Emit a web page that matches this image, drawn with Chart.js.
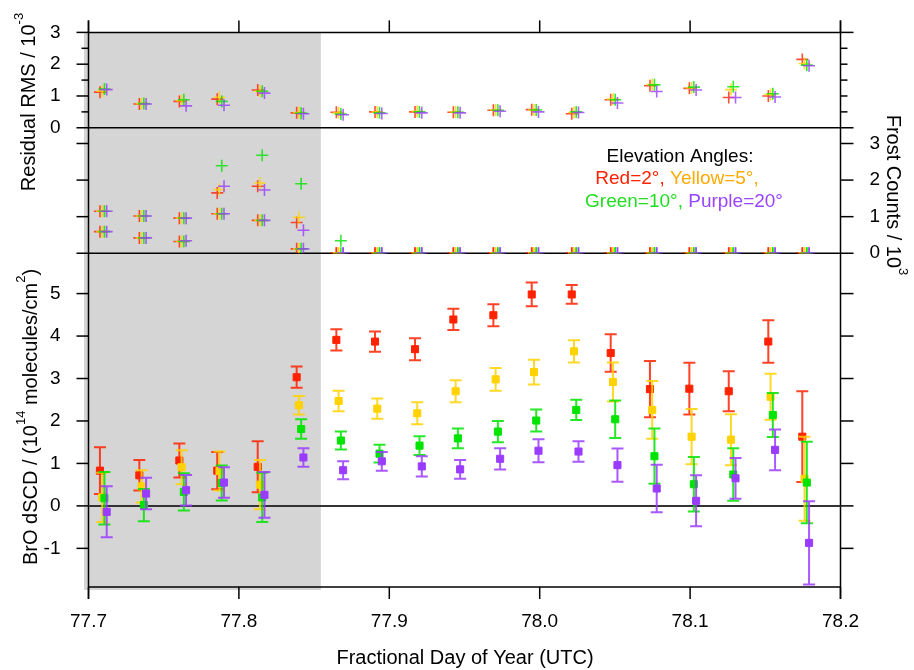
<!DOCTYPE html>
<html><head><meta charset="utf-8">
<script src="https://cdn.jsdelivr.net/npm/chart.js@4.4.1/dist/chart.umd.min.js"></script>
<style>html,body{margin:0;padding:0;background:#fff;} #wrap{width:914px;height:670px;position:relative;}</style>
</head><body><div id="wrap"><canvas id="c" width="914" height="670"></canvas></div>
<script>
// ---------- DATA ----------
const timeRed    = [77.7076, 77.7338, 77.7604, 77.7856, 77.8125, 77.8384, 77.8648, 77.8905, 77.9171, 77.9426, 77.9692, 77.9947, 78.0213, 78.0472, 78.0733, 78.0995, 78.1257, 78.1520, 78.1746];
const timeYellow = [77.7091, 77.7353, 77.7619, 77.7871, 77.8140, 77.8399, 77.8663, 77.8920, 77.9186, 77.9441, 77.9707, 77.9962, 78.0228, 78.0487, 78.0748, 78.1010, 78.1272, 78.1535, 78.1761];
const timeGreen  = [77.7106, 77.7368, 77.7634, 77.7886, 77.8155, 77.8414, 77.8678, 77.8935, 77.9201, 77.9456, 77.9722, 77.9977, 78.0243, 78.0502, 78.0763, 78.1025, 78.1287, 78.1550, 78.1776];
const timePurple = [77.7121, 77.7383, 77.7649, 77.7901, 77.8170, 77.8429, 77.8693, 77.8950, 77.9216, 77.9471, 77.9737, 77.9992, 78.0258, 78.0517, 78.0778, 78.1040, 78.1302, 78.1565, 78.1791];

// Residual RMS (x 10^-3)
const rmsRed    = [1.12, 0.75, 0.83, 0.90, 1.19, 0.47, 0.49, 0.50, 0.50, 0.49, 0.55, 0.57, 0.44, 0.88, 1.32, 1.24, 0.95, 1.00, 2.15];
const rmsYellow = [1.15, 0.76, 0.85, 0.96, 1.15, 0.48, 0.47, 0.50, 0.52, 0.50, 0.56, 0.56, 0.48, 0.90, 1.36, 1.25, 1.20, 1.05, 2.02];
const rmsGreen  = [1.22, 0.76, 0.88, 0.83, 1.15, 0.46, 0.43, 0.47, 0.50, 0.49, 0.55, 0.56, 0.50, 0.88, 1.35, 1.28, 1.29, 1.07, 1.97];
const rmsPurple = [1.20, 0.75, 0.69, 0.71, 1.09, 0.44, 0.41, 0.45, 0.47, 0.47, 0.52, 0.50, 0.48, 0.78, 1.14, 1.19, 0.95, 0.97, 1.95];

// Frost counts (x 10^3), two readings per scan
const frostHiRed    = [1.15, 1.02, 0.96, 1.65, 1.83, 0.84, 0, 0, 0, 0, 0, 0, 0, 0, 0, 0, 0, 0, 0];
const frostHiYellow = [1.15, 1.02, 0.96, 1.74, 1.92, 0.98, 0, 0, 0, 0, 0, 0, 0, 0, 0, 0, 0, 0, 0];
const frostHiGreen  = [1.15, 1.02, 0.96, 2.39, 2.68, 1.90, 0.34, 0, 0, 0, 0, 0, 0, 0, 0, 0, 0, 0, 0];
const frostHiPurple = [1.15, 1.02, 0.96, 1.83, 1.73, 0.63, 0, 0, 0, 0, 0, 0, 0, 0, 0, 0, 0, 0, 0];
const frostLoRed    = [0.59, 0.42, 0.32, 1.08, 0.90, 0.12, 0, 0, 0, 0, 0, 0, 0, 0, 0, 0, 0, 0, 0];
const frostLoYellow = [0.59, 0.42, 0.32, 1.08, 0.90, 0.12, 0, 0, 0, 0, 0, 0, 0, 0, 0, 0, 0, 0, 0];
const frostLoGreen  = [0.59, 0.42, 0.32, 1.08, 0.90, 0.12, 0, 0, 0, 0, 0, 0, 0, 0, 0, 0, 0, 0, 0];
const frostLoPurple = [0.59, 0.42, 0.34, 1.08, 0.90, 0.12, 0, 0, 0, 0, 0, 0, 0, 0, 0, 0, 0, 0, 0];

// BrO dSCD (x 10^14 molecules/cm^2) and errors
const broRed       = [0.83, 0.72, 1.07, 0.83, 0.92, 3.03, 3.91, 3.87, 3.69, 4.39, 4.49, 4.98, 4.98, 3.60, 2.75, 2.76, 2.70, 3.87, 1.63];
const broErrRed    = [0.55, 0.36, 0.40, 0.44, 0.60, 0.25, 0.25, 0.24, 0.26, 0.25, 0.26, 0.28, 0.22, 0.44, 0.66, 0.61, 0.47, 0.50, 1.07];
const broYellow    = [0.20, 0.46, 0.91, 0.82, 0.50, 2.37, 2.47, 2.29, 2.18, 2.70, 2.98, 3.15, 3.64, 2.92, 2.26, 1.63, 1.56, 2.57, 0.64];
const broErrYellow = [0.58, 0.38, 0.40, 0.46, 0.58, 0.22, 0.24, 0.24, 0.26, 0.26, 0.27, 0.29, 0.26, 0.46, 0.68, 0.65, 0.60, 0.54, 0.99];
const broGreen     = [0.18, 0.02, 0.33, 0.54, 0.20, 1.81, 1.54, 1.23, 1.42, 1.59, 1.75, 2.01, 2.26, 2.04, 1.17, 0.51, 0.74, 2.14, 0.55];
const broErrGreen  = [0.62, 0.38, 0.44, 0.41, 0.58, 0.23, 0.21, 0.21, 0.22, 0.23, 0.25, 0.26, 0.24, 0.44, 0.65, 0.64, 0.62, 0.52, 0.96];
const broPurple    = [-0.14, 0.29, 0.37, 0.55, 0.26, 1.14, 0.84, 1.05, 0.93, 0.86, 1.11, 1.30, 1.28, 0.96, 0.41, 0.12, 0.65, 1.32, -0.87];
const broErrPurple = [0.60, 0.37, 0.36, 0.36, 0.54, 0.22, 0.21, 0.22, 0.24, 0.22, 0.25, 0.27, 0.24, 0.39, 0.56, 0.60, 0.48, 0.48, 0.98];

// Axes
const dayRange   = [77.7, 78.2];
const dayTicks   = [77.7, 77.8, 77.9, 78.0, 78.1, 78.2];
const rmsRange   = [0, 3];
const rmsTicks   = [0, 0.5, 1, 1.5, 2, 2.5, 3];
const frostRange = [0, 3.43];
const frostTicks = [0, 1, 2, 3];
const broRange   = [-1.91, 5.95];
const broTicks   = [-1, 0, 1, 2, 3, 4, 5];
const shadeRange = [77.697, 77.8545];

// ---------- STYLE ----------
const FONT = '"Liberation Sans", Arial, Helvetica, sans-serif';
const COL = {red: '#ff2200', yellow: '#ffd200', green: '#00e400', purple: '#9a3cff'};
const TXTCOL = {red: '#ff2200', yellow: '#ffaa00', green: '#22dd22', purple: '#9944ff'};
function rgba(hex, a) {
  const n = parseInt(hex.slice(1), 16);
  return `rgba(${(n >> 16) & 255},${(n >> 8) & 255},${n & 255},${a})`;
}
function pts(xs, ys) { return xs.map((x, i) => ({x: x, y: ys[i]})); }

const angles = [
  {c: 'red',    t: timeRed,    rms: rmsRed,    hi: frostHiRed,    lo: frostLoRed,    bro: broRed,    err: broErrRed,    order: 4},
  {c: 'yellow', t: timeYellow, rms: rmsYellow, hi: frostHiYellow, lo: frostLoYellow, bro: broYellow, err: broErrYellow, order: 3},
  {c: 'green',  t: timeGreen,  rms: rmsGreen,  hi: frostHiGreen,  lo: frostLoGreen,  bro: broGreen,  err: broErrGreen,  order: 2},
  {c: 'purple', t: timePurple, rms: rmsPurple, hi: frostHiPurple, lo: frostLoPurple, bro: broPurple, err: broErrPurple, order: 1}
];

const datasets = [];
angles.forEach(a => {
  const col = COL[a.c];
  const cross = {showLine: false, pointStyle: 'cross', pointRadius: 6, pointBorderWidth: 1.6,
    borderColor: rgba(col, 0.8), backgroundColor: rgba(col, 0.8), order: a.order};
  datasets.push(Object.assign({label: a.c + ' rms', data: pts(a.t, a.rms), yAxisID: 'yRMS'}, cross));
  datasets.push(Object.assign({label: a.c + ' frost hi', data: pts(a.t, a.hi), yAxisID: 'yFrost'}, cross));
  datasets.push(Object.assign({label: a.c + ' frost lo', data: pts(a.t, a.lo), yAxisID: 'yFrost'}, cross));
  datasets.push({label: a.c + ' BrO', data: pts(a.t, a.bro), yAxisID: 'yBrO', showLine: false,
    pointStyle: 'rect', pointRadius: 5, pointBorderWidth: 1, borderColor: col, backgroundColor: col,
    errors: a.err, errColor: rgba(col, 0.85), order: a.order});
});

function fixW(w) { return function (s) { s.width = w; }; }
const LEFTW = 88.5, RIGHTW = 73.5;
const hidden = {display: false};
const tickFont = {family: FONT, size: 19};

const errorBars = {
  id: 'errorBars',
  beforeDatasetDraw(chart, args) {
    const ds = chart.data.datasets[args.index];
    if (!ds.errors) return;
    const ys = chart.scales[ds.yAxisID];
    const ctx = chart.ctx;
    ctx.save();
    ctx.strokeStyle = ds.errColor;
    ctx.lineWidth = 2;
    args.meta.data.forEach((el, i) => {
      const v = ds.data[i].y, e = ds.errors[i];
      const x = el.x, y0 = ys.getPixelForValue(v + e), y1 = ys.getPixelForValue(v - e);
      ctx.beginPath();
      ctx.moveTo(x, y0); ctx.lineTo(x, y1);
      ctx.moveTo(x - 6, y0); ctx.lineTo(x + 6, y0);
      ctx.moveTo(x - 6, y1); ctx.lineTo(x + 6, y1);
      ctx.stroke();
    });
    ctx.restore();
  }
};

function richText(ctx, parts, cx, cy, rot, size, color) {
  ctx.save();
  ctx.translate(cx, cy); ctx.rotate(rot);
  const mainFont = size + 'px ' + FONT, supFont = Math.round(size * 0.65) + 'px ' + FONT;
  let total = 0;
  const widths = parts.map(p => { ctx.font = p[1] ? supFont : mainFont; const w = ctx.measureText(p[0]).width; total += w; return w; });
  let x = -total / 2;
  ctx.textAlign = 'left'; ctx.textBaseline = 'alphabetic'; ctx.fillStyle = color || '#000';
  parts.forEach((p, i) => {
    ctx.font = p[1] ? supFont : mainFont;
    ctx.fillText(p[0], x, p[1] ? -size * 0.25 : size * 0.35);
    x += widths[i];
  });
  ctx.restore();
}
function colorLine(ctx, parts, cx, cy, size) {
  ctx.save();
  ctx.font = size + 'px ' + FONT;
  ctx.textAlign = 'left'; ctx.textBaseline = 'middle';
  let total = 0;
  const widths = parts.map(p => { const w = ctx.measureText(p[0]).width; total += w; return w; });
  let x = cx - total / 2;
  parts.forEach((p, i) => { ctx.fillStyle = p[1]; ctx.fillText(p[0], x, cy); x += widths[i]; });
  ctx.restore();
}

const frame = {
  id: 'frame',
  beforeDatasetsDraw(chart) {
    const {ctx, chartArea: ca, scales} = chart;
    const X = scales.x, yR = scales.yRMS, yF = scales.yFrost, yB = scales.yBrO;
    const L = ca.left, R = ca.right, T = ca.top, B = ca.bottom;
    ctx.save();
    const sx0 = X.getPixelForValue(shadeRange[0]), sx1 = X.getPixelForValue(shadeRange[1]);
    ctx.fillStyle = '#d5d5d5';
    ctx.fillRect(sx0, T, sx1 - sx0, B + 3 - T);
    function line(x0, y0, x1, y1) { ctx.beginPath(); ctx.moveTo(x0, y0); ctx.lineTo(x1, y1); ctx.stroke(); }
    ctx.strokeStyle = '#000'; ctx.lineWidth = 1.5;
    line(L, T - 12, L, B + 12); line(R, T - 12, R, B + 12);
    line(L, T, R, T); line(L, B, R, B);
    line(L, yR.getPixelForValue(0), R, yR.getPixelForValue(0));
    line(L, yF.getPixelForValue(0), R, yF.getPixelForValue(0));
    // x ticks top & bottom
    dayTicks.forEach(v => { const x = X.getPixelForValue(v); line(x, T - 12, x, T); line(x, B, x, B + 12); });
    // y ticks left & right
    rmsTicks.forEach(v => { const y = yR.getPixelForValue(v); const maj = Number.isInteger(v); line(L - (maj ? 12 : 7), y, L, y); line(R, y, R + ((v === 0 || v === 3) ? 13 : 7), y); });
    frostTicks.forEach(v => { const y = yF.getPixelForValue(v); line(L - 12, y, L, y); line(R, y, R + 13, y); });
    broTicks.forEach(v => { const y = yB.getPixelForValue(v); line(L - 12, y, L, y); line(R, y, R + 13, y); });
    // zero line of BrO panel
    ctx.strokeStyle = '#333'; ctx.lineWidth = 2;
    const y0 = yB.getPixelForValue(0);
    line(L, y0, R, y0);
    ctx.restore();
  },
  afterDraw(chart) {
    const ctx = chart.ctx;
    richText(ctx, [['Residual RMS / 10', false], ['-3', true]], 28, 102, -Math.PI / 2, 20);
    richText(ctx, [['BrO dSCD / (10', false], ['14', true], [' molecules/cm', false], ['2', true], [')', false]], 30, 417, -Math.PI / 2, 20);
    richText(ctx, [['Frost Counts / 10', false], ['3', true]], 894, 195, Math.PI / 2, 20);
    richText(ctx, [['Fractional Day of Year (UTC)', false]], 465, 657, 0, 20);
    colorLine(ctx, [['Elevation Angles:', '#000']], 680, 157, 19);
    colorLine(ctx, [['Red=2°, ', TXTCOL.red], ['Yellow=5°,', TXTCOL.yellow]], 677, 179, 19);
    colorLine(ctx, [['Green=10°, ', TXTCOL.green], ['Purple=20°', TXTCOL.purple]], 684, 202, 19);
  }
};

new Chart(document.getElementById('c'), {
  type: 'scatter',
  data: {datasets: datasets},
  options: {
    responsive: false, animation: false, events: [],
    layout: {padding: {top: 27, left: 0, right: 0, bottom: 0}},
    plugins: {legend: {display: false}, tooltip: {enabled: false}},
    scales: {
      x: {type: 'linear', position: 'bottom', min: dayRange[0], max: dayRange[1],
        grid: hidden, border: hidden,
        ticks: {stepSize: 0.1, padding: 15, color: '#000', font: tickFont, maxRotation: 0, autoSkip: false,
          callback: v => v.toFixed(1)},
        afterFit: s => { s.height = 83; }},
      // left stack (last defined is placed on top)
      yBrO: {type: 'linear', position: 'left', stack: 'L', stackWeight: 337, min: broRange[0], max: broRange[1],
        grid: hidden, border: hidden,
        ticks: {stepSize: 1, includeBounds: false, autoSkip: false, padding: 20, color: '#000', font: tickFont}, afterFit: fixW(LEFTW)},
      yFrost: {type: 'linear', position: 'left', stack: 'L', stackWeight: 126.7, min: frostRange[0], max: frostRange[1],
        grid: hidden, border: hidden, ticks: {display: false, stepSize: 1}, afterFit: fixW(LEFTW)},
      yRMS: {type: 'linear', position: 'left', stack: 'L', stackWeight: 96.3, min: rmsRange[0], max: rmsRange[1],
        grid: hidden, border: hidden,
        ticks: {stepSize: 1, includeBounds: false, autoSkip: false, padding: 20, color: '#000', font: tickFont}, afterFit: fixW(LEFTW)},
      // right stack (first defined is placed on top)
      yRMSr: {type: 'linear', position: 'right', stack: 'R', stackWeight: 96.3, min: rmsRange[0], max: rmsRange[1],
        grid: hidden, border: hidden, ticks: {display: false}, afterFit: fixW(RIGHTW)},
      yFrostR: {type: 'linear', position: 'right', stack: 'R', stackWeight: 126.7, min: frostRange[0], max: frostRange[1],
        grid: hidden, border: hidden,
        ticks: {stepSize: 1, includeBounds: false, autoSkip: false, padding: 21, color: '#000', font: tickFont}, afterFit: fixW(RIGHTW)},
      yBrOr: {type: 'linear', position: 'right', stack: 'R', stackWeight: 337, min: broRange[0], max: broRange[1],
        grid: hidden, border: hidden, ticks: {display: false}, afterFit: fixW(RIGHTW)}
    }
  },
  plugins: [errorBars, frame]
});
</script>
</body></html>
